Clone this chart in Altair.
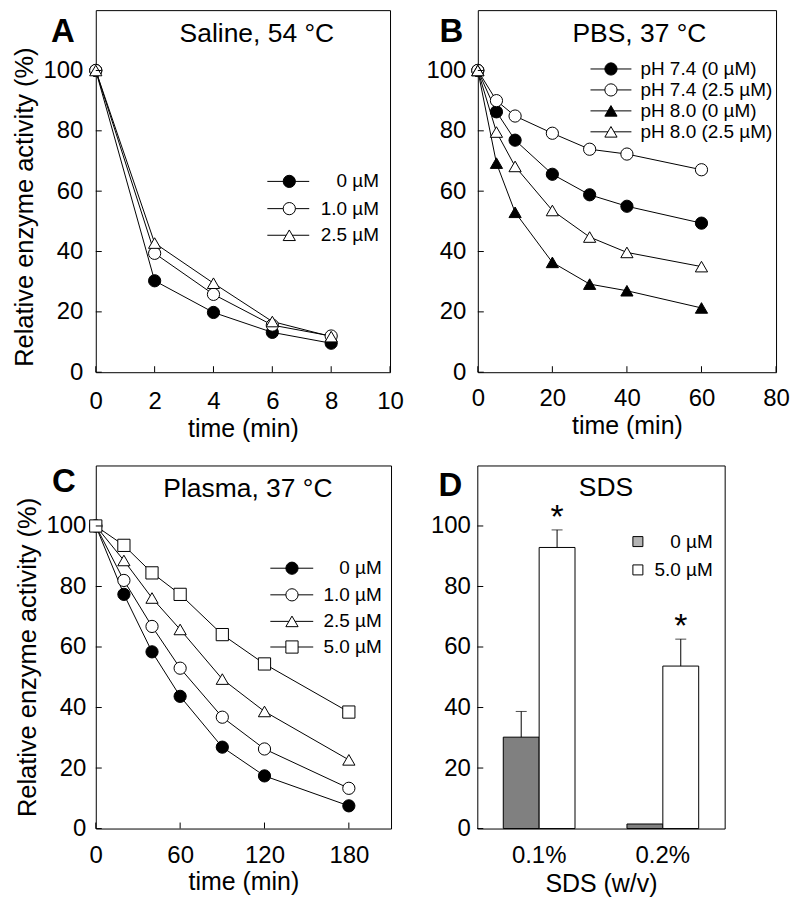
import altair as alt
import pandas as pd

FONT = "Liberation Sans"

# ---------------- data ----------------
# Panel A  (Saline, 54 °C)
a_time = [0, 2, 4, 6, 8]
a_series = ["0 µM", "1.0 µM", "2.5 µM"]
a_vals = {
    "0 µM": [100, 30.3, 19.8, 13.2, 9.6],
    "1.0 µM": [100, 39.4, 25.8, 15.6, 12.0],
    "2.5 µM": [100, 42.8, 29.5, 16.8, 11.8],
}
a_xticks = [0, 2, 4, 6, 8, 10]

# Panel B  (PBS, 37 °C)
b_time = [0, 5, 10, 20, 30, 40, 60]
b_series = ["pH 7.4 (0 µM)", "pH 7.4 (2.5 µM)", "pH 8.0 (0 µM)", "pH 8.0 (2.5 µM)"]
b_vals = {
    "pH 7.4 (0 µM)": [100, 86.3, 76.9, 65.6, 58.8, 55.0, 49.4],
    "pH 7.4 (2.5 µM)": [100, 90.0, 84.9, 79.2, 73.9, 72.3, 67.1],
    "pH 8.0 (0 µM)": [100, 69.3, 53.0, 36.4, 29.2, 27.0, 21.3],
    "pH 8.0 (2.5 µM)": [100, 79.6, 68.2, 53.6, 44.8, 39.7, 35.0],
}
b_xticks = [0, 20, 40, 60, 80]

# Panel C  (Plasma, 37 °C)
c_time = [0, 20, 40, 60, 90, 120, 180]
c_series = ["0 µM", "1.0 µM", "2.5 µM", "5.0 µM"]
c_vals = {
    "0 µM": [100, 77.4, 58.4, 43.7, 26.9, 17.4, 7.5],
    "1.0 µM": [100, 82.0, 66.8, 53.0, 36.8, 26.3, 13.3],
    "2.5 µM": [100, 88.6, 76.2, 65.8, 49.4, 38.7, 22.7],
    "5.0 µM": [100, 93.6, 84.5, 77.4, 64.1, 54.4, 38.5],
}
c_xticks = [0, 60, 120, 180]

# Panel D  (SDS)
d_sds = ["0.1%", "0.2%"]
d_conc = ["0 µM", "5.0 µM"]
d_value = {"0 µM": [30.2, 1.5], "5.0 µM": [92.9, 53.7]}
d_err = {"0 µM": [8.5, 0.0], "5.0 µM": [5.8, 8.9]}
d_star = {"0 µM": ["", ""], "5.0 µM": ["*", "*"]}

y_ticks = [0, 20, 40, 60, 80, 100]
Y_TITLE = "Relative enzyme activity (%)"
TITLE_SIZE = 26.5


def long_df(times, series, vals):
    rows = []
    for s in series:
        for t, v in zip(times, vals[s]):
            rows.append({"x": t, "y": v, "series": s})
    return pd.DataFrame(rows)


def one(**kw):
    return pd.DataFrame({k: [v] for k, v in kw.items()})


def text_layer(label, x, y, size, weight="normal", align="center", baseline="alphabetic"):
    return alt.Chart(one(label=label)).mark_text(
        font=FONT, fontSize=size, fontWeight=weight, align=align,
        baseline=baseline, color="black"
    ).encode(x=alt.value(x), y=alt.value(y), text="label:N")


def line_panel(df, series, shapes, fills, x_domain, x_ticks, width, height,
               xlab_pad, ylab_pad, ytitle, ytitle_y, xtitle_pad, title, title_xy,
               letter, letter_xy, leg):
    ysc = alt.Scale(domain=[0, 120], nice=False, zero=True)
    xsc = alt.Scale(domain=x_domain, nice=False, zero=False)
    yargs = dict(values=y_ticks, labelPadding=ylab_pad, titlePadding=5, titleFontSize=25.5)
    if ytitle_y is not None:
        yargs["titleY"] = ytitle_y
    yaxis = alt.Axis(**yargs)
    xaxis = alt.Axis(values=x_ticks, labelPadding=xlab_pad, titlePadding=xtitle_pad,
                     format="d", labelFlush=False)
    Y = alt.Y("y:Q", scale=ysc, axis=yaxis, title=ytitle)
    X = alt.X("x:Q", scale=xsc, axis=xaxis, title="time (min)")

    layers = []
    layers.append(alt.Chart(df).mark_line(color="black", strokeWidth=1).encode(
        x=X, y=Y, detail="series:N"))
    layers.append(alt.Chart(df).mark_point(
        filled=True, stroke="black", strokeWidth=1, opacity=1, size=150).encode(
        x=X, y=Y,
        shape=alt.Shape("series:N", scale=alt.Scale(domain=series, range=shapes), legend=None),
        fill=alt.Fill("series:N", scale=alt.Scale(domain=series, range=fills), legend=None)))
    # inward ticks
    layers.append(alt.Chart(pd.DataFrame({"y": y_ticks})).mark_rule(
        color="black", strokeWidth=1).encode(y=Y, x=alt.value(0), x2=alt.value(6)))
    layers.append(alt.Chart(pd.DataFrame({"x": x_ticks})).mark_rule(
        color="black", strokeWidth=1).encode(x=X, y=alt.value(height), y2=alt.value(height - 6)))
    # title & letter
    layers.append(text_layer(title, title_xy[0], title_xy[1], TITLE_SIZE))
    layers.append(text_layer(letter, letter_xy[0], letter_xy[1], 33, weight="bold"))
    # legend
    for i, s in enumerate(series):
        ry = leg["rows"][i]
        layers.append(alt.Chart(one(a=0)).mark_rule(color="black", strokeWidth=1).encode(
            x=alt.value(leg["x1"]), x2=alt.value(leg["x2"]), y=alt.value(ry)))
        layers.append(alt.Chart(one(a=0)).mark_point(
            shape=shapes[i], filled=True, fill=fills[i], stroke="black", strokeWidth=1,
            opacity=1, size=150).encode(x=alt.value(leg["mx"]), y=alt.value(ry)))
        layers.append(text_layer(s, leg["tx"], ry, 19, align=leg["align"], baseline="middle"))
    return alt.layer(*layers).properties(width=width, height=height)


A = line_panel(long_df(a_time, a_series, a_vals), a_series,
               ["circle", "circle", "triangle-up"], ["black", "white", "white"],
               [0, 10], a_xticks, 295, 363, 17, 13, Y_TITLE, 197, 3,
               "Saline, 54 °C", (161.5, 32), "A", (-33, 32),
               {"rows": [171.7, 199, 225.7], "x1": 172, "x2": 214, "mx": 194,
                "tx": 284, "align": "right"})

B = line_panel(long_df(b_time, b_series, b_vals), b_series,
               ["circle", "circle", "triangle-up", "triangle-up"],
               ["black", "white", "black", "white"],
               [0, 80], b_xticks, 299, 363, 14, 12, None, None, 3,
               "PBS, 37 °C", (162, 32), "B", (-26.5, 32),
               {"rows": [59, 80, 101, 122], "x1": 113, "x2": 154, "mx": 133.5,
                "tx": 163, "align": "left"})

C = line_panel(long_df(c_time, c_series, c_vals), c_series,
               ["circle", "circle", "triangle-up", "square"],
               ["black", "white", "white", "white"],
               [0, 210], c_xticks, 296, 364, 15, 10, Y_TITLE, 192, 2,
               "Plasma, 37 °C", (152.5, 32), "C", (-32, 27),
               {"rows": [103, 129.7, 156.3, 182], "x1": 175, "x2": 218, "mx": 196.7,
                "tx": 286.7, "align": "right"})

# Panel D
rows = []
for c in d_conc:
    for i, s in enumerate(d_sds):
        rows.append({"sds": s, "conc": c, "y": d_value[c][i], "err": d_err[c][i],
                     "star": d_star[c][i]})
df_d = pd.DataFrame(rows)

ysc_d = alt.Scale(domain=[0, 120], nice=False, zero=True)
axis_d = alt.Axis(values=y_ticks, labelPadding=7)
Yd = alt.Y("y:Q", scale=ysc_d, axis=axis_d, title=None)
Yt = alt.Y("top:Q", scale=ysc_d, axis=axis_d, title=None)
Xd = alt.X("sds:N", scale=alt.Scale(domain=d_sds, paddingInner=0.42, paddingOuter=0.21),
           axis=alt.Axis(labelAngle=0, labelPadding=15, titlePadding=4), title="SDS (w/v)")
XO = alt.XOffset("conc:N", scale=alt.Scale(domain=d_conc, paddingInner=0, paddingOuter=0))

bars = alt.Chart(df_d).mark_bar(stroke="black", strokeWidth=1).encode(
    x=Xd, xOffset=XO, y=Yd,
    fill=alt.Fill("conc:N", scale=alt.Scale(domain=d_conc, range=["#808080", "white"]), legend=None))
errbase = alt.Chart(df_d).transform_filter("datum.err > 0").transform_calculate(top="datum.y + datum.err")
err_rule = errbase.mark_rule(color="black", strokeWidth=1).encode(
    x=Xd, xOffset=XO, y=Yd, y2="top:Q")
err_cap = errbase.mark_tick(color="black", thickness=1, size=11, orient="horizontal").encode(
    x=Xd, xOffset=XO, y=Yt)
stars = errbase.transform_filter("datum.star != ''").mark_text(
    font=FONT, fontSize=34, baseline="alphabetic", dy=-2, color="black").encode(
    x=Xd, xOffset=XO, y=Yt, text="star:N")
dticks = alt.Chart(pd.DataFrame({"y": y_ticks})).mark_rule(color="black", strokeWidth=1).encode(
    y=Yd, x=alt.value(0), x2=alt.value(6))

d_layers = [bars, err_rule, err_cap, stars, dticks,
            text_layer("SDS", 129, 30.5, TITLE_SIZE), text_layer("D", -27, 30.5, 33, weight="bold")]
leg_fill = ["#b4b4b4", "white"]
for i, c in enumerate(d_conc):
    ry = [76.3, 104.7][i]
    d_layers.append(alt.Chart(one(a=0)).mark_point(
        shape="square", filled=True, fill=leg_fill[i], stroke="black", strokeWidth=1,
        opacity=1, size=100).encode(x=alt.value(161), y=alt.value(ry)))
    d_layers.append(text_layer(c, 236, ry, 19, align="right", baseline="middle"))
D = alt.layer(*d_layers).properties(width=248, height=364)

row1 = alt.hconcat(A, B, spacing=88, bounds="flush").resolve_scale(
    fill="independent", shape="independent")
row2 = alt.hconcat(C, D, spacing=86.5, bounds="flush").resolve_scale(
    fill="independent", shape="independent")
chart = alt.vconcat(row1, row2, spacing=22.5).resolve_scale(
    fill="independent", shape="independent"
).properties(
    padding={"left": 4, "top": 0, "right": 2, "bottom": 2}
).configure_view(stroke="black", strokeWidth=1).configure_axis(
    labelFont=FONT, titleFont=FONT, labelFontSize=24, titleFontSize=25,
    titleFontWeight="normal", labelColor="black", titleColor="black",
    domain=False, ticks=False, tickSize=0, grid=False
)

chart.save("out.html", embed_options={"renderer": "svg", "actions": False})
